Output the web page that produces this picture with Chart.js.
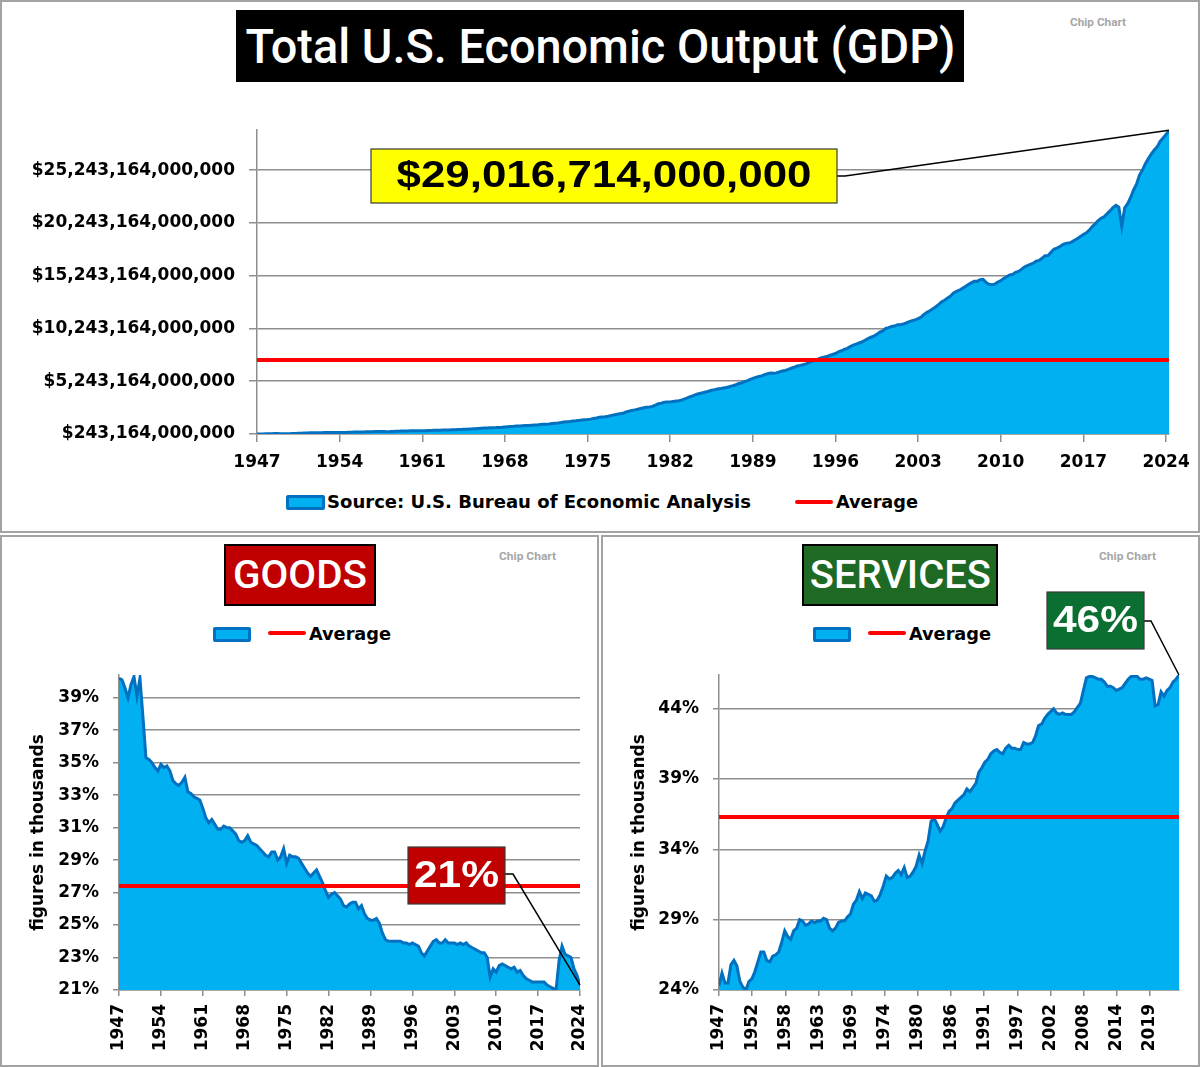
<!DOCTYPE html>
<html>
<head>
<meta charset="utf-8">
<script src="https://cdn.jsdelivr.net/npm/chart.js@4.4.1/dist/chart.umd.min.js"></script>
<style>
  body { margin: 0; background: #fff; }
  #page { position: relative; width: 1200px; height: 1067px; overflow: hidden; }
  .panel { position: absolute; border: 2px solid #a3a3a3; box-sizing: border-box; }
  canvas { position: absolute; }
  .title { position: absolute; box-sizing: border-box; display: flex; align-items: center; justify-content: center;
           color: #fff; font-family: Roboto, sans-serif; font-weight: 500; white-space: nowrap; }
  .title span { display: inline-block; }
  .mark { position: absolute; color: #a6a6a6; font: bold 11px Roboto, sans-serif; white-space: nowrap; transform-origin: left center; }
  .legend-text { position: absolute; font: bold 17px "DejaVu Sans", sans-serif; line-height: 20px; white-space: nowrap; transform-origin: left center; }
  .swatch { position: absolute; box-sizing: border-box; background: #00b0f0; border: 3px solid #0070c0; border-radius: 2px; }
  .redline { position: absolute; height: 4px; background: #ff0000; border-radius: 2px; }
</style>
</head>
<body>
<div id="page">
  <div class="panel" style="left:0;top:0;width:1200px;height:533px"></div>
  <div class="panel" style="left:0;top:535px;width:599px;height:532px"></div>
  <div class="panel" style="left:601px;top:535px;width:599px;height:532px"></div>

  <div class="title" style="left:236px;top:10px;width:728px;height:72px;background:#000;font-size:49px"><span data-fit="710">Total U.S. Economic Output (GDP)</span></div>
  <div class="title" style="left:224px;top:544px;width:152px;height:62px;background:#c00000;border:2px solid #000;font-size:38px"><span data-fit="134">GOODS</span></div>
  <div class="title" style="left:802px;top:544px;width:196px;height:62px;background:#1e6a24;border:2px solid #000;font-size:38px"><span data-fit="181">SERVICES</span></div>

  <div class="mark" style="left:1070px;top:16px" data-fit="56">Chip Chart</div>
  <div class="mark" style="left:499px;top:550px" data-fit="57">Chip Chart</div>
  <div class="mark" style="left:1099px;top:550px" data-fit="57">Chip Chart</div>

  <div class="swatch" style="left:286px;top:495px;width:39px;height:15px"></div>
  <div class="legend-text" style="left:327px;top:492px" data-fit="424">Source: U.S. Bureau of Economic Analysis</div>
  <div class="redline" style="left:795px;top:500px;width:38px"></div>
  <div class="legend-text" style="left:836px;top:492px" data-fit="82">Average</div>

  <div class="swatch" style="left:213px;top:627px;width:38px;height:15px"></div>
  <div class="redline" style="left:268px;top:631px;width:38px"></div>
  <div class="legend-text" style="left:309px;top:624px" data-fit="82">Average</div>

  <div class="swatch" style="left:813px;top:627px;width:38px;height:15px"></div>
  <div class="redline" style="left:868px;top:631px;width:38px"></div>
  <div class="legend-text" style="left:909px;top:624px" data-fit="82">Average</div>

  <canvas id="gdpChart" width="1200" height="532" style="left:0;top:0"></canvas>
  <canvas id="goodsChart" width="598" height="530" style="left:0;top:536px"></canvas>
  <canvas id="servicesChart" width="599" height="530" style="left:601px;top:536px"></canvas>
</div>

<script>
// quarterly GDP, billions of dollars, 1947 Q1 .. 2024 Q2
const gdpBillions = [
  243.2, 246.0, 249.6, 259.7, 265.7, 272.6, 279.2, 280.4, 275.0, 271.4, 272.9, 270.6,
  280.8, 290.4, 308.2, 319.9, 336.0, 344.1, 351.4, 356.2, 359.8, 361.0, 367.7, 380.8,
  388.0, 391.7, 391.2, 386.0, 385.3, 386.1, 391.0, 399.7, 413.1, 421.5, 430.2, 437.1,
  439.7, 446.0, 451.2, 460.5, 469.8, 472.0, 479.5, 474.9, 467.5, 472.0, 485.8, 499.6,
  510.3, 522.7, 525.0, 528.6, 542.6, 541.1, 545.6, 540.2, 545.0, 555.5, 567.7, 580.6,
  594.0, 600.4, 609.0, 612.3, 621.7, 629.8, 644.4, 653.9, 669.8, 678.7, 692.0, 697.3,
  717.8, 730.2, 749.3, 771.9, 795.7, 805.0, 819.6, 833.3, 844.2, 849.0, 865.2, 881.4,
  909.4, 934.3, 950.8, 968.0, 993.3, 1009.0, 1030.0, 1038.1, 1051.2, 1067.4, 1086.1, 1088.6,
  1135.2, 1156.3, 1177.7, 1190.3, 1230.6, 1266.4, 1290.6, 1328.9, 1377.5, 1413.9, 1433.8, 1476.3,
  1491.2, 1530.1, 1560.0, 1599.7, 1616.1, 1651.9, 1709.8, 1761.8, 1820.5, 1852.3, 1886.6, 1934.3,
  1988.6, 2055.9, 2118.5, 2164.3, 2202.8, 2331.6, 2395.1, 2476.9, 2526.6, 2591.2, 2667.6, 2723.9,
  2789.8, 2797.4, 2856.5, 2985.6, 3124.2, 3162.5, 3260.6, 3280.8, 3274.3, 3332.0, 3366.3, 3402.6,
  3473.4, 3578.8, 3689.2, 3794.7, 3908.1, 4009.6, 4084.3, 4148.6, 4230.2, 4294.9, 4386.8, 4444.1,
  4507.9, 4545.3, 4607.7, 4657.6, 4722.2, 4806.2, 4884.6, 5008.0, 5073.4, 5190.0, 5282.8, 5399.5,
  5511.3, 5612.5, 5695.4, 5747.2, 5872.7, 5960.0, 6015.1, 6004.7, 6035.2, 6126.9, 6205.9, 6264.5,
  6363.1, 6470.8, 6566.6, 6680.8, 6729.5, 6808.9, 6882.1, 7013.7, 7115.7, 7246.9, 7331.1, 7455.3,
  7522.3, 7581.0, 7683.1, 7772.6, 7868.5, 8032.8, 8131.4, 8259.8, 8362.7, 8518.8, 8662.8, 8765.9,
  8866.5, 8969.7, 9121.1, 9294.0, 9411.7, 9526.2, 9686.6, 9900.2, 10002.2, 10247.7, 10318.2, 10435.7,
  10470.2, 10599.0, 10598.0, 10660.5, 10783.5, 10887.5, 10984.0, 11061.4, 11174.1, 11312.8, 11566.7, 11772.2,
  11923.4, 12112.8, 12305.3, 12527.2, 12767.3, 12922.7, 13142.6, 13324.2, 13599.2, 13753.4, 13870.2, 14039.6,
  14215.7, 14402.1, 14564.1, 14715.1, 14706.5, 14865.7, 14899.0, 14608.2, 14430.9, 14381.2, 14448.9, 14651.2,
  14764.6, 14980.2, 15141.6, 15309.5, 15351.4, 15557.5, 15647.7, 15842.3, 16068.8, 16207.1, 16319.5, 16420.4,
  16629.1, 16699.6, 16911.1, 17133.1, 17144.3, 17462.7, 17743.2, 17852.5, 17991.3, 18193.7, 18307.0, 18332.1,
  18425.3, 18611.6, 18775.5, 18968.0, 19148.2, 19304.5, 19561.9, 19894.8, 20155.5, 20470.2, 20687.3, 20819.3,
  21105.0, 21384.0, 21694.0, 21902.0, 21727.0, 19935.0, 21685.0, 22068.0, 22657.0, 23368.0, 23922.0, 24777.0,
  25250.0, 25862.0, 26336.0, 26770.0, 27164.0, 27454.0, 27968.0, 28297.0, 28624.0, 29016.714
];
const gdpAverage = 7.25e12;
const gdpYTicks = [243164000000, 5243164000000, 10243164000000, 15243164000000, 20243164000000, 25243164000000];
const gdpXTicks = [1947, 1954, 1961, 1968, 1975, 1982, 1989, 1996, 2003, 2010, 2017, 2024];

// goods share of GDP, %, half-yearly 1947 .. 2024
const goodsShare = [
  40.2, 40.1, 39.6, 39.0, 39.8, 40.3, 39.1, 40.2, 37.8, 35.3, 35.2, 35.0, 34.7, 34.5, 34.9, 34.7,
  34.8, 34.5, 33.9, 33.7, 33.6, 33.8, 34.1, 33.2, 33.1, 32.9, 32.8, 32.7, 32.2, 31.6, 31.3, 31.5,
  31.2, 30.9, 30.9, 31.1, 31.0, 31.0, 30.8, 30.6, 30.2, 30.1, 30.2, 30.5, 30.1, 30.0, 29.9, 29.7,
  29.5, 29.3, 29.2, 29.5, 29.5, 29.0, 29.2, 29.7, 28.8, 29.3, 29.2, 29.2, 29.1, 28.8, 28.5, 28.2,
  28.0, 28.2, 28.4, 28.0, 27.6, 27.1, 26.7, 26.9, 27.0, 26.8, 26.6, 26.2, 26.1, 26.3, 26.4, 26.4,
  26.0, 26.2, 25.7, 25.4, 25.3, 25.3, 25.4, 25.1, 24.5, 24.1, 24.0, 24.0, 24.0, 24.0, 24.0, 23.9,
  23.9, 23.8, 23.9, 23.8, 23.7, 23.3, 23.1, 23.4, 23.7, 24.0, 24.1, 23.9, 23.9, 24.1, 23.9, 23.9,
  23.9, 23.8, 23.9, 23.8, 23.9, 23.7, 23.6, 23.5, 23.4, 23.3, 23.3, 23.0, 21.8, 22.3, 22.1, 22.5,
  22.6, 22.5, 22.4, 22.3, 22.4, 22.1, 22.2, 21.9, 21.7, 21.6, 21.5, 21.5, 21.5, 21.5, 21.5, 21.3,
  21.2, 21.1, 21.0, 22.8, 23.7, 23.2, 23.1, 23.0, 22.3, 21.9, 21.3
];
const goodsAverage = 27.4;
const goodsYTicks = [21, 23, 25, 27, 29, 31, 33, 35, 37, 39];
const goodsXTicks = [1947, 1954, 1961, 1968, 1975, 1982, 1989, 1996, 2003, 2010, 2017, 2024];

// services share of GDP, %, half-yearly 1947 .. 2024
const servicesShare = [
  24.3, 25.2, 24.5, 24.5, 25.8, 26.1, 25.7, 24.6, 24.2, 24.0, 24.6, 24.8, 25.3, 26.0, 26.7, 26.7,
  26.1, 26.0, 26.4, 26.5, 26.7, 27.4, 28.2, 27.8, 27.6, 28.2, 28.4, 29.0, 28.9, 28.6, 28.7, 28.9,
  28.8, 28.9, 28.9, 29.1, 29.0, 28.4, 28.2, 28.4, 28.8, 28.9, 28.9, 29.2, 29.4, 30.1, 30.4, 31.0,
  30.5, 30.9, 30.8, 30.7, 30.3, 30.4, 30.8, 31.4, 32.1, 31.9, 32.0, 32.3, 32.5, 32.2, 32.7, 32.0,
  32.1, 32.4, 32.8, 33.6, 33.0, 33.9, 34.6, 36.0, 36.2, 35.8, 35.3, 35.6, 36.2, 36.7, 36.9, 37.3,
  37.5, 37.7, 37.9, 38.3, 38.1, 38.4, 38.7, 39.5, 39.8, 40.2, 40.4, 40.8, 41.0, 41.1, 40.9, 40.8,
  41.2, 41.4, 41.2, 41.2, 41.1, 41.1, 41.6, 41.5, 41.5, 41.6, 42.1, 42.8, 42.9, 43.3, 43.6, 43.8,
  44.0, 43.7, 43.6, 43.7, 43.6, 43.6, 43.6, 43.8, 44.1, 44.4, 45.3, 46.2, 46.3, 46.3, 46.2, 46.1,
  46.1, 45.9, 45.6, 45.6, 45.5, 45.3, 45.4, 45.5, 45.8, 46.1, 46.3, 46.3, 46.3, 46.1, 46.1, 46.2,
  46.1, 46.0, 44.2, 44.3, 45.2, 44.9, 45.3, 45.5, 45.9, 46.1, 46.4
];
const servicesAverage = 36.3;
const servicesYTicks = [24, 29, 34, 39, 44];
const servicesXLabels = ['1947', '1952', '1958', '1963', '1969', '1974', '1980', '1986', '1991', '1997', '2002', '2008', '2014', '2019'];
const servicesTickStep = 5.55;

const axisFont = { family: '"DejaVu Sans", sans-serif', size: 17, weight: 'bold' };
const gridColor = '#8e8e8e';

// boxed label with a leader line to the last point of the area series
const calloutPlugin = {
  id: 'callout',
  afterDatasetsDraw(chart, args, opts) {
    if (!opts.text) return;
    const pts = chart.getDatasetMeta(1).data;
    const pt = pts[pts.length - 1];
    const ctx = chart.ctx;
    const [x1, y1, x2, y2] = opts.box;
    ctx.save();
    ctx.strokeStyle = '#000';
    ctx.lineWidth = 1.5;
    ctx.beginPath();
    ctx.moveTo(x2, opts.lineY);
    ctx.lineTo(x2 + opts.stub, opts.lineY);
    ctx.lineTo(pt.x, pt.y);
    ctx.stroke();
    ctx.fillStyle = opts.bg;
    ctx.fillRect(x1, y1, x2 - x1, y2 - y1);
    ctx.strokeStyle = '#3a3a3a';
    ctx.lineWidth = 1.2;
    ctx.strokeRect(x1, y1, x2 - x1, y2 - y1);
    ctx.font = opts.font;
    const w = ctx.measureText(opts.text).width;
    ctx.translate((x1 + x2) / 2, (y1 + y2) / 2 + 1);
    ctx.scale(opts.textWidth / w, 1);
    ctx.textAlign = 'center';
    ctx.textBaseline = 'middle';
    ctx.fillStyle = opts.fg;
    ctx.fillText(opts.text, 0, 0);
    ctx.restore();
  }
};
Chart.register(calloutPlugin);

function makeChart(id, cfg) {
  const ctx = document.getElementById(id).getContext('2d');
  return new Chart(ctx, {
    type: 'line',
    data: {
      datasets: [{
        label: 'Average',
        data: [{ x: cfg.xMin, y: cfg.average }, { x: cfg.xMax, y: cfg.average }],
        borderColor: '#ff0000',
        borderWidth: 4,
        pointRadius: 0,
        fill: false,
        order: 0
      }, {
        label: cfg.label,
        data: cfg.points,
        borderColor: '#0070c0',
        backgroundColor: '#00b0f0',
        borderWidth: 3,
        pointRadius: 0,
        fill: 'start',
        order: 1
      }]
    },
    options: {
      responsive: false,
      animation: false,
      layout: { padding: cfg.padding },
      plugins: { legend: { display: false }, tooltip: { enabled: false }, callout: cfg.callout },
      scales: {
        x: {
          type: 'linear',
          min: cfg.xMin,
          max: cfg.xMax,
          afterBuildTicks: s => { s.ticks = cfg.xTicks.map(v => ({ value: v })); },
          afterFit: s => { s.height = cfg.xHeight; s.paddingLeft = 0; s.paddingRight = 0; },
          ticks: {
            font: axisFont, color: '#000', autoSkip: false, padding: cfg.xPad,
            minRotation: cfg.rotation, maxRotation: cfg.rotation,
            callback: (v, i) => cfg.xLabels[i]
          },
          grid: { drawOnChartArea: false, tickLength: cfg.tickLen, color: gridColor, lineWidth: 1.5 },
          border: { color: gridColor, width: 1.5 }
        },
        y: {
          min: cfg.yMin,
          max: cfg.yMax,
          afterBuildTicks: s => { s.ticks = cfg.yTicks.map(v => ({ value: v })); },
          afterFit: s => { s.width = cfg.yWidth; },
          ticks: { font: axisFont, color: '#000', padding: 14, callback: cfg.yFormat },
          title: cfg.yTitle ? { display: true, text: cfg.yTitle, font: axisFont, color: '#000', padding: { top: 28, bottom: 0 } } : { display: false },
          grid: { tickLength: cfg.tickLen, color: gridColor, lineWidth: 1.5 },
          border: { color: gridColor, width: 1.5 }
        }
      }
    }
  });
}

document.querySelectorAll('[data-fit]').forEach(el => {
  const w = el.getBoundingClientRect().width;
  el.style.transform = 'scaleX(' + (parseFloat(el.dataset.fit) / w).toFixed(4) + ')';
});

makeChart('gdpChart', {
  label: 'Source: U.S. Bureau of Economic Analysis',
  points: gdpBillions.map((v, i) => ({ x: 1947 + i / 4, y: v * 1e9 })),
  average: gdpAverage,
  xMin: 1947, xMax: 2024.25,
  xTicks: gdpXTicks, xLabels: gdpXTicks.map(String),
  yMin: gdpYTicks[0], yMax: 29.05e12, yTicks: gdpYTicks,
  yFormat: v => '$' + Number(v).toLocaleString('en-US'),
  padding: { top: 130, right: 31, left: 0, bottom: 0 },
  xHeight: 98, yWidth: 257, tickLen: 8, xPad: 10, rotation: 0,
  callout: {
    text: '$29,016,714,000,000', box: [371, 149, 837, 203], lineY: 176, stub: 8,
    bg: '#ffff00', fg: '#000', font: 'bold 37px "Liberation Sans", Arial, sans-serif', textWidth: 415
  }
});

makeChart('goodsChart', {
  label: 'Goods',
  points: goodsShare.map((v, i) => ({ x: 1947 + i / 2, y: v })),
  average: goodsAverage,
  xMin: 1947, xMax: 2024,
  xTicks: goodsXTicks, xLabels: goodsXTicks.map(String),
  yMin: 21, yMax: 40.4, yTicks: goodsYTicks,
  yFormat: v => v + '%',
  yTitle: 'figures in thousands',
  padding: { top: 139, right: 18, left: 0, bottom: 0 },
  xHeight: 76, yWidth: 119, tickLen: 6, xPad: 8, rotation: 90,
  callout: {
    text: '21%', box: [408, 311, 505, 368], lineY: 338, stub: 8,
    bg: '#c00000', fg: '#fff', font: 'bold 37px "Liberation Sans", Arial, sans-serif', textWidth: 85
  }
});

makeChart('servicesChart', {
  label: 'Services',
  points: servicesShare.map((v, i) => ({ x: 1947 + i / 2, y: v })),
  average: servicesAverage,
  xMin: 1947, xMax: 2024,
  xTicks: servicesXLabels.map((l, i) => 1947 + i * servicesTickStep), xLabels: servicesXLabels,
  yMin: 24, yMax: 46.4, yTicks: servicesYTicks,
  yFormat: v => v + '%',
  yTitle: 'figures in thousands',
  padding: { top: 139, right: 21, left: 0, bottom: 0 },
  xHeight: 76, yWidth: 118, tickLen: 6, xPad: 8, rotation: 90,
  callout: {
    text: '46%', box: [446, 56, 543, 113], lineY: 85, stub: 7,
    bg: '#0b6f31', fg: '#fff', font: 'bold 37px "Liberation Sans", Arial, sans-serif', textWidth: 85
  }
});
</script>
</body>
</html>
